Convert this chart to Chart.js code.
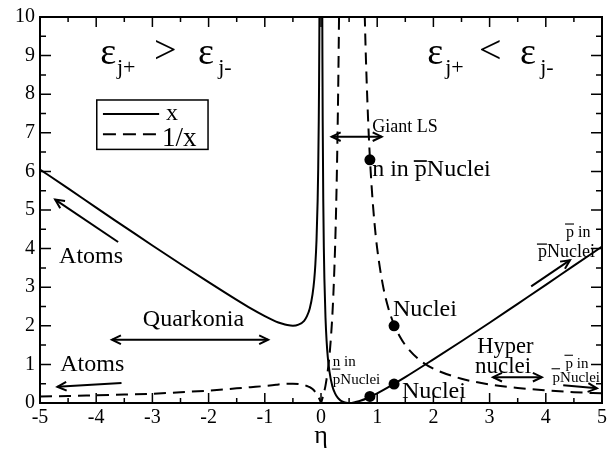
<!DOCTYPE html>
<html>
<head>
<meta charset="utf-8">
<script src="https://cdn.jsdelivr.net/npm/chart.js@4.4.1/dist/chart.umd.min.js"></script>
<style>
  html, body { margin: 0; padding: 0; background: #fff; }
  #wrap { width: 616px; height: 452px; }
</style>
</head>
<body>
<div id="wrap"><canvas id="canvas" width="616" height="452"></canvas></div>
<script>
// x (solid), branch eta < 0
const etaLeft = [-5, -4.5, -4, -3.5, -3, -2.5, -2, -1.5, -1.25, -1, -0.8, -0.7, -0.6, -0.5, -0.4, -0.3, -0.25, -0.2, -0.15, -0.12, -0.1, -0.08, -0.06, -0.05, -0.04, -0.035, -0.03, -0.025];
const xLeft = [6.05, 5.56, 5.06, 4.57, 4.08, 3.6, 3.13, 2.67, 2.45, 2.25, 2.11, 2.06, 2.02, 2, 2.03, 2.13, 2.25, 2.45, 2.82, 3.2, 3.6, 4.21, 5.23, 6.05, 7.29, 8.17, 9.36, 11.03];

// x (solid), branch eta > 0
const etaRight = [0.02, 0.025, 0.03, 0.04, 0.05, 0.06, 0.08, 0.1, 0.12, 0.15, 0.2, 0.25, 0.3, 0.35, 0.4, 0.45, 0.5, 0.55, 0.6, 0.7, 0.8, 0.9, 1, 1.2, 1.5, 2, 2.5, 3, 3.5, 4, 4.5, 5];
const xRight = [11.52, 9.03, 7.36, 5.29, 4.05, 3.23, 2.21, 1.6, 1.2, 0.82, 0.45, 0.25, 0.13, 0.06, 0.03, 0.01, 0, 0, 0.02, 0.06, 0.11, 0.18, 0.25, 0.41, 0.67, 1.13, 1.6, 2.08, 2.57, 3.06, 3.56, 4.05];

// 1/x (dashed), from -5 through the dip at 0 up to the first pole
const etaInvA = [-5, -4.5, -4, -3.5, -3, -2.5, -2, -1.5, -1.25, -1, -0.8, -0.7, -0.6, -0.5, -0.4, -0.3, -0.25, -0.2, -0.15, -0.1, -0.06, -0.03, -0.01, 0, 0.01, 0.03, 0.05, 0.08, 0.1, 0.12, 0.15, 0.18, 0.2, 0.22, 0.25, 0.27, 0.29, 0.31, 0.32, 0.33];
const invA = [0.17, 0.18, 0.2, 0.22, 0.24, 0.28, 0.32, 0.38, 0.41, 0.44, 0.47, 0.49, 0.5, 0.5, 0.49, 0.47, 0.44, 0.41, 0.36, 0.28, 0.19, 0.11, 0.04, 0, 0.04, 0.14, 0.25, 0.45, 0.63, 0.83, 1.22, 1.76, 2.22, 2.81, 4, 5.1, 6.58, 8.59, 9.88, 11.42];

// 1/x (dashed), tail after the second pole
const etaInvB = [0.77, 0.78, 0.8, 0.85, 0.9, 0.95, 1, 1.1, 1.2, 1.3, 1.4, 1.5, 1.75, 2, 2.5, 3, 3.5, 4, 4.5, 5];
const invB = [10.56, 9.95, 8.89, 6.94, 5.63, 4.69, 4, 3.06, 2.45, 2.03, 1.73, 1.5, 1.12, 0.89, 0.63, 0.48, 0.39, 0.33, 0.28, 0.25];

// marked points
const dotEta = [0.87, 1.3, 0.87, 1.3];
const dotVal = [6.3, 2.0, 0.17, 0.49];

const xTicks = [-5, -4, -3, -2, -1, 0, 1, 2, 3, 4, 5];
const yTicks = [0, 1, 2, 3, 4, 5, 6, 7, 8, 9, 10];

const FONT = 'Liberation Serif';
const pts = (xs, ys) => xs.map((v, i) => ({ x: v, y: ys[i] }));

function arrowHead(ctx, x, y, ang) {
  const L = 10, w = 0.45;
  ctx.beginPath();
  ctx.moveTo(x - L * Math.cos(ang - w), y - L * Math.sin(ang - w));
  ctx.lineTo(x, y);
  ctx.lineTo(x - L * Math.cos(ang + w), y - L * Math.sin(ang + w));
  ctx.stroke();
}

function arrow(ctx, a, b, both) {
  ctx.beginPath();
  ctx.moveTo(a[0], a[1]);
  ctx.lineTo(b[0], b[1]);
  ctx.stroke();
  const ang = Math.atan2(b[1] - a[1], b[0] - a[0]);
  arrowHead(ctx, b[0], b[1], ang);
  if (both) arrowHead(ctx, a[0], a[1], ang + Math.PI);
}

const decor = {
  id: 'decor',
  afterDraw(chart) {
    const ctx = chart.ctx;
    const xs = chart.scales.x, ys = chart.scales.y;
    const P = (e, v) => [xs.getPixelForValue(e), ys.getPixelForValue(v)];
    const a = chart.chartArea;
    ctx.save();
    ctx.strokeStyle = '#000';
    ctx.fillStyle = '#000';
    ctx.lineWidth = 2;
    ctx.setLineDash([]);

    // frame
    ctx.strokeRect(a.left, a.top, a.right - a.left, a.bottom - a.top);

    // inward ticks on all four sides
    ctx.lineWidth = 1.5;
    ctx.beginPath();
    for (let e = -5; e <= 5.001; e += 0.5) {
      const px = xs.getPixelForValue(e);
      const len = Math.abs(e - Math.round(e)) < 0.01 ? 10 : 5;
      ctx.moveTo(px, a.bottom); ctx.lineTo(px, a.bottom - len);
      ctx.moveTo(px, a.top); ctx.lineTo(px, a.top + len);
    }
    for (let v = 0; v <= 10.001; v += 0.5) {
      const py = ys.getPixelForValue(v);
      const len = Math.abs(v - Math.round(v)) < 0.01 ? 11 : 6;
      ctx.moveTo(a.left, py); ctx.lineTo(a.left + len, py);
      ctx.moveTo(a.right, py); ctx.lineTo(a.right - len, py);
    }
    ctx.stroke();

    const setFont = size => {
      ctx.font = size + 'px "' + FONT + '"';
      ctx.textAlign = 'left';
      ctx.textBaseline = 'alphabetic';
    };
    const textPx = (s, x, y, size) => {
      setFont(size);
      ctx.fillText(s, x, y);
      return x + ctx.measureText(s).width;
    };
    const text = (s, e, v, size) => {
      const p = P(e, v);
      return textPx(s, p[0], p[1], size);
    };
    // text whose first character (an antiproton p) carries an overline
    const barPx = (s, x, y, size, rise) => {
      const end = textPx(s, x, y, size);
      const w = ctx.measureText(s[0]).width;
      ctx.lineWidth = Math.max(1, size / 14);
      ctx.beginPath();
      ctx.moveTo(x - 1, y - rise);
      ctx.lineTo(x + w, y - rise);
      ctx.stroke();
      return end;
    };
    const bar = (s, e, v, size, rise) => {
      const p = P(e, v);
      return barPx(s, p[0], p[1], size, rise);
    };

    // epsilon relations
    text('\u03b5', -3.93, 8.77, 38);
    text('j+', -3.63, 8.52, 22);
    text('>', -2.97, 8.8, 40);
    text('\u03b5', -2.19, 8.77, 38);
    text('j-', -1.83, 8.52, 22);

    text('\u03b5', 1.89, 8.77, 38);
    text('j+', 2.21, 8.52, 22);
    text('<', 2.81, 8.8, 40);
    text('\u03b5', 3.54, 8.77, 38);
    text('j-', 3.9, 8.52, 22);

    // legend
    ctx.lineWidth = 1.5;
    const b1 = P(-3.99, 7.85), b2 = P(-2.01, 6.57);
    ctx.strokeRect(b1[0], b1[1], b2[0] - b1[0], b2[1] - b1[1]);
    ctx.lineWidth = 2;
    let l1 = P(-3.88, 7.49), l2 = P(-2.88, 7.49);
    ctx.beginPath(); ctx.moveTo(l1[0], l1[1]); ctx.lineTo(l2[0], l2[1]); ctx.stroke();
    l1 = P(-3.88, 6.96); l2 = P(-2.88, 6.96);
    ctx.setLineDash([13, 7]);
    ctx.beginPath(); ctx.moveTo(l1[0], l1[1]); ctx.lineTo(l2[0], l2[1]); ctx.stroke();
    ctx.setLineDash([]);
    text('x', -2.76, 7.34, 24);
    text('1/x', -2.83, 6.65, 27);

    // labels
    text('Giant LS', 0.91, 7.03, 18);
    let p = P(0.91, 5.88);
    let end = textPx('n in ', p[0], p[1], 24);
    barPx('pNuclei', end, p[1], 24, 15);
    text('Nuclei', 1.28, 2.25, 24);
    text('Nuclei', 1.44, 0.13, 24);
    text('n in', 0.21, 0.97, 15);
    bar('pNuclei', 0.21, 0.49, 15, 15);
    text('Hyper', 2.78, 1.3, 22.5);
    text('nuclei', 2.74, 0.79, 23);
    bar('p in', 4.36, 4.3, 16, 13);
    bar('pNuclei', 3.86, 3.78, 18, 13);
    bar('p in', 4.35, 0.9, 15, 13);
    bar('pNuclei', 4.12, 0.55, 15, 13);
    text('Atoms', -4.66, 3.63, 24);
    text('Quarkonia', -3.17, 2.0, 24);
    text('Atoms', -4.64, 0.84, 24);

    // arrows
    ctx.lineWidth = 2;
    arrow(ctx, P(0.19, 6.9), P(1.08, 6.9), true);
    arrow(ctx, P(3.06, 0.67), P(3.93, 0.67), true);
    arrow(ctx, P(-3.72, 1.64), P(-0.94, 1.64), true);
    arrow(ctx, P(3.74, 3.02), P(4.43, 3.7), false);
    arrow(ctx, P(4.31, 0.46), P(4.91, 0.38), false);
    arrow(ctx, P(-3.61, 4.17), P(-4.73, 5.27), false);
    arrow(ctx, P(-3.55, 0.52), P(-4.69, 0.42), false);
    ctx.restore();
  }
};

const lineBase = {
  borderColor: '#000',
  borderWidth: 2,
  pointRadius: 0,
  fill: false,
  cubicInterpolationMode: 'monotone'
};

new Chart(document.getElementById('canvas'), {
  type: 'line',
  data: {
    datasets: [
      Object.assign({ label: 'x', data: pts(etaLeft, xLeft) }, lineBase),
      Object.assign({ label: 'x', data: pts(etaRight, xRight) }, lineBase),
      Object.assign({ label: '1/x', data: pts(etaInvA, invA), borderDash: [12, 7] }, lineBase),
      Object.assign({ label: '1/x', data: pts(etaInvB, invB), borderDash: [12, 7] }, lineBase),
      {
        label: 'points',
        data: pts(dotEta, dotVal),
        showLine: false,
        pointRadius: 5.5,
        pointBackgroundColor: '#000',
        pointBorderColor: '#000',
        pointBorderWidth: 0
      }
    ]
  },
  options: {
    responsive: false,
    animation: false,
    devicePixelRatio: 1,
    layout: { padding: { left: 0, right: 14, top: 12, bottom: 0 } },
    plugins: { legend: { display: false }, tooltip: { enabled: false } },
    scales: {
      x: {
        type: 'linear',
        min: -5, max: 5,
        afterBuildTicks: s => { s.ticks = xTicks.map(v => ({ value: v })); },
        ticks: { color: '#000', font: { family: FONT, size: 20 }, padding: 3, maxRotation: 0 },
        grid: { display: false, drawTicks: false },
        border: { display: false },
        title: { display: true, text: '\u03b7', color: '#000', font: { family: FONT, size: 26 }, padding: 0 },
        afterFit: s => { s.height = 49; }
      },
      y: {
        type: 'linear',
        min: 0, max: 10,
        afterBuildTicks: s => { s.ticks = yTicks.map(v => ({ value: v })); },
        ticks: { color: '#000', font: { family: FONT, size: 20 }, padding: 5 },
        grid: { display: false, drawTicks: false },
        border: { display: false },
        afterFit: s => { s.width = 40; }
      }
    }
  },
  plugins: [decor]
});
</script>
</body>
</html>
